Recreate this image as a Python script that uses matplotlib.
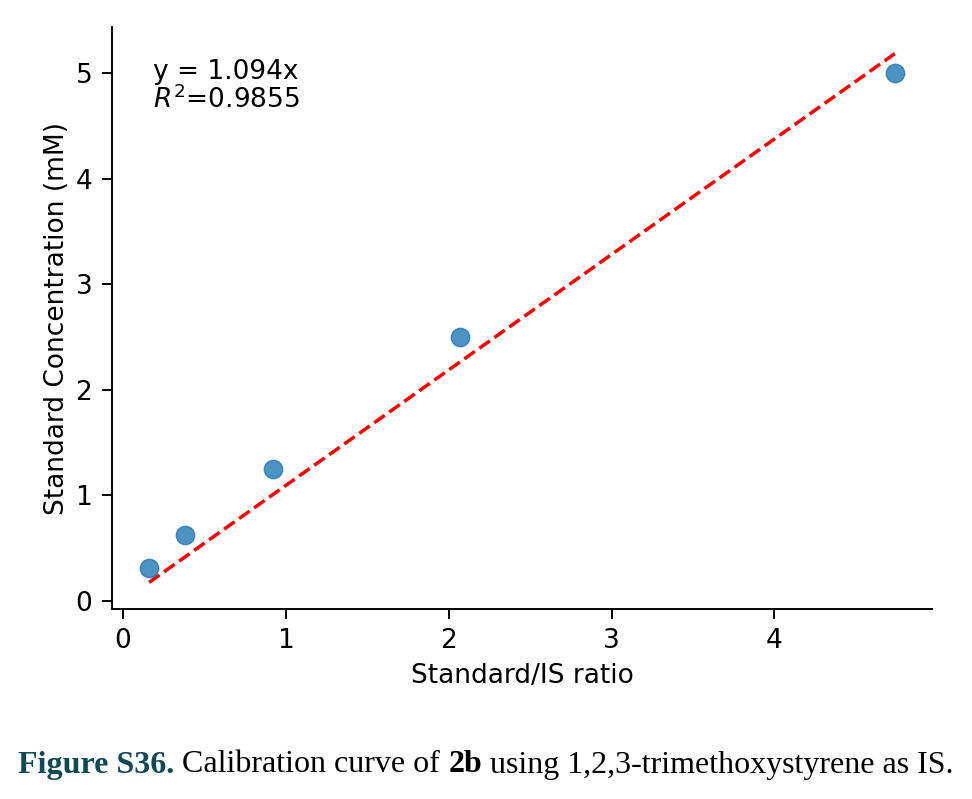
import matplotlib
matplotlib.use("Agg")
import matplotlib.pyplot as plt
import numpy as np

ratio = [0.16, 0.38, 0.92, 2.07, 4.74]
conc = [0.3125, 0.625, 1.25, 2.5, 5.0]
slope = 1.094
r2 = 0.9855

fig = plt.figure(figsize=(9.72, 7.99), dpi=100)
ax = fig.add_axes([0.115, 0.238, 0.844, 0.728])

x = np.array(ratio)
ax.scatter(x, conc, s=175, color="#1f77b4", alpha=0.8, zorder=3)
xl = np.array([min(ratio), max(ratio)])
ax.plot(xl, slope * xl, "--", color="red", lw=2.5)

ax.spines["top"].set_visible(False)
ax.spines["right"].set_visible(False)
ax.tick_params(labelsize=19, length=7, width=1.4, pad=7)
for s in ["left", "bottom"]:
    ax.spines[s].set_linewidth(1.4)
ax.set_xlabel("Standard/IS ratio", fontsize=19, labelpad=6)
ax.set_ylabel("Standard Concentration (mM)", fontsize=19, labelpad=4)
ax.set_xticks([0, 1, 2, 3, 4])
ax.text(0.05, 0.945, f"y = {slope}x\n$R^2$={r2}", transform=ax.transAxes,
        va="top", ha="left", fontsize=19, linespacing=1.0)

# caption
fig.canvas.draw()
r = fig.canvas.get_renderer()
parts = [("Figure S36.", "bold", "#0d4a52"),
         (" Calibration curve of ", "normal", "black"),
         ("2b", "bold", "black"),
         (" using 1,2,3-trimethoxystyrene as IS.", "normal", "black")]
xpos = 18
for txt, w, c in parts:
    t = fig.text(xpos / 972, 1 - 765 / 799, txt, fontsize=23, fontweight=w, color=c,
                 family="Liberation Serif", va="center", ha="left")
    bb = t.get_window_extent(renderer=r)
    xpos += bb.width
fig.savefig("out.png", dpi=100)
